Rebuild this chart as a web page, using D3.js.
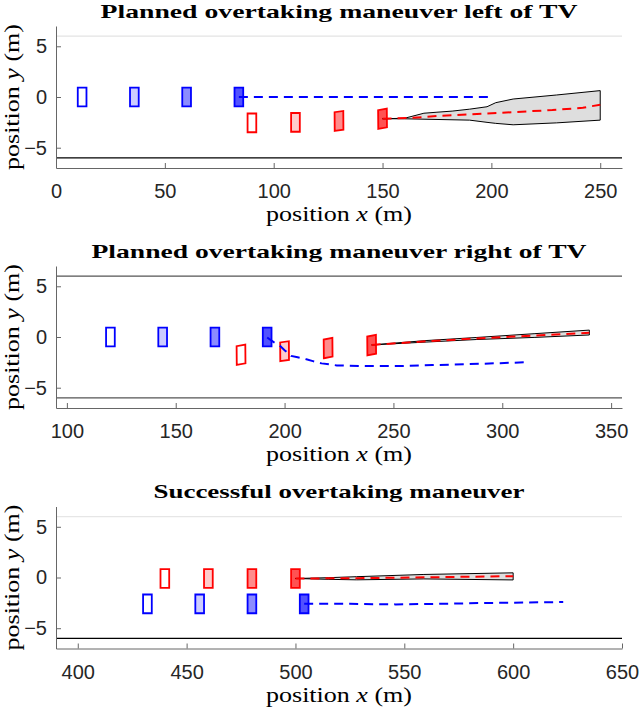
<!DOCTYPE html>
<html><head><meta charset="utf-8">
<script src="https://cdn.jsdelivr.net/npm/d3@7"></script>
<style>body{margin:0;background:#fff}</style>
</head><body>
<svg id="chart" width="640" height="709"></svg>
<script>
// ---------------- data ----------------
const titles = ["Planned overtaking maneuver left of TV", "Planned overtaking maneuver right of TV", "Successful overtaking maneuver"];
const xDomains = [[0, 260], [95, 355], [390, 650]];
const xTicks1 = [0, 50, 100, 150, 200, 250];
const xTicks2 = [100, 150, 200, 250, 300, 350];
const xTicks3 = [400, 450, 500, 550, 600, 650];
const yTicks = [-5, 0, 5];
const yDomain = [-7, 7];
const roadEdges = [6, -6];

// vehicles (center x, center y, heading rad)
const p1BlueX = [12, 36, 60, 84], p1BlueY = [0, 0, 0, 0], p1BlueH = [0, 0, 0, 0];
const p1RedX = [90, 110, 130, 150], p1RedY = [-2.55, -2.5, -2.36, -2.14], p1RedH = [0, 0, 0.03, 0.04];
const p2BlueX = [120, 144, 168, 192], p2BlueY = [0, 0, 0, 0], p2BlueH = [0, 0, 0, 0];
const p2RedX = [180, 200, 220, 240], p2RedY = [-1.75, -1.4, -1.09, -0.8], p2RedH = [0.04, 0.03, 0.04, 0.04];
const p3RedX = [440, 460, 480, 500], p3RedY = [-0.1, -0.1, -0.1, -0.1], p3RedH = [0, 0, 0, 0];
const p3BlueX = [432, 456, 480, 504], p3BlueY = [-2.6, -2.6, -2.6, -2.6], p3BlueH = [0, 0, 0, 0];
const shadeLevels = [0, 0.2, 0.45, 0.68];

// trajectories
const p1BluePath = [[84, 0], [120, 0], [160, 0], [200.6, 0]];
const p1RedPath = [[150, -2.14], [164, -2.05], [175, -1.88], [190, -1.72], [210, -1.49], [228, -1.29], [242, -1.06], [250, -0.76]];
const p1BandUpper = [[150, -2.14], [160, -2.1], [164, -1.88], [169, -1.6], [175, -1.5], [182, -1.39], [190, -1.2], [198, -0.96], [202, -0.56], [210, -0.2], [230, 0.2], [250, 0.63]];
const p1BandLower = [[150, -2.14], [160, -2.15], [190, -2.28], [198, -2.5], [202, -2.6], [210, -2.74], [230, -2.55], [250, -2.28]];

const p2BluePath = [[192, -0.05], [195, -0.5], [198, -0.9], [200, -1.3], [203, -1.86], [206, -2.0], [210, -2.2], [213, -2.38], [217, -2.6], [224, -2.8], [238, -2.87], [253, -2.87], [268, -2.77], [284, -2.68], [299, -2.58], [312, -2.48]];
const p2RedPath = [[240, -0.78], [265, -0.42], [288, -0.15], [315, 0.15], [340, 0.42]];
const p2BandUpper = [[240, -0.78], [265, -0.35], [288, -0.05], [315, 0.33], [340, 0.68]];
const p2BandLower = [[240, -0.78], [265, -0.5], [288, -0.25], [315, -0.04], [340, 0.2]];

const p3BluePath = [[504, -2.58], [525, -2.6], [546, -2.65], [565, -2.6], [585, -2.52], [605, -2.47], [623, -2.42]];
const p3RedPath = [[500, -0.1], [528, -0.07], [560, 0.02], [600, 0.13]];
const p3BandUpper = [[500, -0.1], [515, -0.02], [528, 0.08], [559, 0.3], [600, 0.46]];
const p3BandLower = [[500, -0.1], [515, -0.18], [528, -0.23], [559, -0.14], [600, -0.24]];

// ---------------- layout ----------------
const W = 640, H = 709;
const left = 56, right = 622, plotH = 142;
const tops = [26, 266, 506.5];
const topLineColors = ["#e3e3e3", "#555555", "#e6e6e6"];
const bottomLineColors = ["#000000", "#555555", "#000000"];
const titleWidths = [477, 495, 371];
const vehLen = 4.0, vehWid = 1.85;

const panels = [
  {xTicks: xTicks1, blue: [p1BlueX, p1BlueY, p1BlueH], red: [p1RedX, p1RedY, p1RedH],
   bluePath: p1BluePath, redPath: p1RedPath, up: p1BandUpper, lo: p1BandLower},
  {xTicks: xTicks2, blue: [p2BlueX, p2BlueY, p2BlueH], red: [p2RedX, p2RedY, p2RedH],
   bluePath: p2BluePath, redPath: p2RedPath, up: p2BandUpper, lo: p2BandLower},
  {xTicks: xTicks3, blue: [p3BlueX, p3BlueY, p3BlueH], red: [p3RedX, p3RedY, p3RedH],
   bluePath: p3BluePath, redPath: p3RedPath, up: p3BandUpper, lo: p3BandLower}
];

const svg = d3.select("#chart");
svg.append("rect").attr("width", W).attr("height", H).attr("fill", "#fff");

const serif = "'Liberation Serif', 'Times New Roman', serif";
const sans = "'Liberation Sans', Arial, Helvetica, sans-serif";

panels.forEach((p, i) => {
  const top = tops[i];
  const x = d3.scaleLinear().domain(xDomains[i]).range([left, right]);
  const y = d3.scaleLinear().domain(yDomain).range([top + plotH, top]);
  const g = svg.append("g");

  // title
  g.append("text").attr("x", (left + right) / 2).attr("y", top - 8.5)
    .attr("text-anchor", "middle").attr("font-family", serif).attr("font-weight", "bold")
    .attr("font-size", 19.5).attr("fill", "#000")
    .attr("textLength", titleWidths[i]).attr("lengthAdjust", "spacingAndGlyphs")
    .text(titles[i]);

  // road edges
  roadEdges.forEach((v, k) => {
    g.append("line").attr("x1", left).attr("x2", right).attr("y1", y(v)).attr("y2", y(v))
      .attr("stroke", k === 0 ? topLineColors[i] : bottomLineColors[i]).attr("stroke-width", 1.1);
  });

  // axes
  const xAxis = d3.axisBottom(x).tickValues(p.xTicks).tickSizeInner(-5).tickSizeOuter(0).tickPadding(16);
  const gx = g.append("g").attr("transform", `translate(0,${top + plotH})`).call(xAxis);
  const yAxis = d3.axisLeft(y).tickValues(yTicks).tickSizeInner(-5).tickSizeOuter(0).tickPadding(9);
  const gy = g.append("g").attr("transform", `translate(${left},0)`).call(yAxis);
  [gx, gy].forEach(ax => {
    ax.select(".domain").attr("stroke", "#666").attr("stroke-width", 1);
    ax.selectAll(".tick line").attr("stroke", "#666");
    ax.selectAll(".tick text").attr("font-family", sans).attr("font-size", 20).attr("fill", "#262626");
  });
  gx.selectAll(".tick text").attr("dy", "0.71em");

  // axis labels
  const xl = g.append("text").attr("x", (left + right) / 2).attr("y", top + 195)
    .attr("text-anchor", "middle").attr("font-family", serif).attr("font-size", 21).attr("fill", "#000")
    .attr("textLength", 146).attr("lengthAdjust", "spacingAndGlyphs");
  xl.append("tspan").text("position ");
  xl.append("tspan").attr("font-style", "italic").text("x");
  xl.append("tspan").text(" (m)");

  const yl = g.append("text").attr("transform", `translate(19,${top + plotH / 2}) rotate(-90)`)
    .attr("text-anchor", "middle").attr("font-family", serif).attr("font-size", 21).attr("fill", "#000")
    .attr("textLength", 146).attr("lengthAdjust", "spacingAndGlyphs");
  yl.append("tspan").text("position ");
  yl.append("tspan").attr("font-style", "italic").text("y");
  yl.append("tspan").text(" (m)");

  // vehicles
  const polyLine = d3.line().x(d => x(d[0])).y(d => y(d[1])).curve(d3.curveLinearClosed);
  function corners(cx, cy, h) {
    const c = Math.cos(h), s = Math.sin(h);
    return [[-vehLen / 2, -vehWid / 2], [vehLen / 2, -vehWid / 2], [vehLen / 2, vehWid / 2], [-vehLen / 2, vehWid / 2]]
      .map(([a, b]) => [cx + a * c - b * s, cy + a * s + b * c]);
  }
  function drawVehicles(arr, color) {
    const [xs, ys, hs] = arr;
    xs.forEach((cx, k) => {
      g.append("path").attr("d", polyLine(corners(cx, ys[k], hs[k])))
        .attr("fill", color).attr("fill-opacity", shadeLevels[k])
        .attr("stroke", color).attr("stroke-width", 1.8).attr("stroke-linejoin", "miter");
    });
  }
  drawVehicles(p.blue, "#0000ff");
  drawVehicles(p.red, "#ff0000");

  // uncertainty band
  const bandPts = p.up.concat(p.lo.slice().reverse());
  g.append("path").attr("d", polyLine(bandPts)).attr("fill", "#dedede")
    .attr("stroke", "#000").attr("stroke-width", 1);

  // trajectories
  const line = d3.line().x(d => x(d[0])).y(d => y(d[1]));
  g.append("path").attr("d", line(p.bluePath)).attr("fill", "none")
    .attr("stroke", "#0000ff").attr("stroke-width", 2).attr("stroke-dasharray", "9,6");
  g.append("path").attr("d", line(p.redPath)).attr("fill", "none")
    .attr("stroke", "#ff0000").attr("stroke-width", 2).attr("stroke-dasharray", "9,6");
});
</script>
</body></html>
